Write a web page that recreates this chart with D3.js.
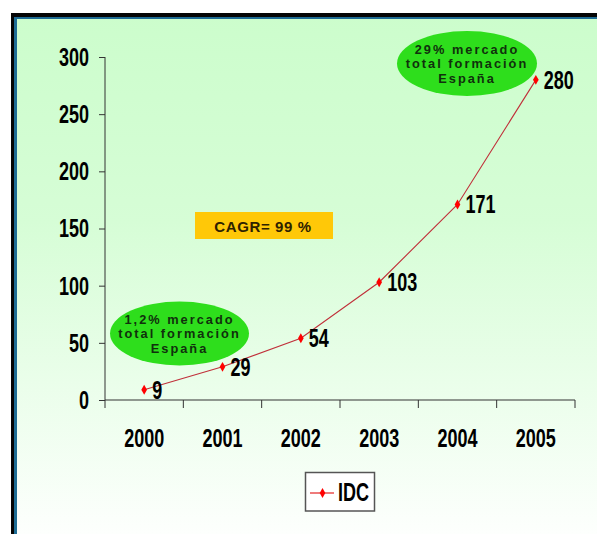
<!DOCTYPE html>
<html>
<head>
<meta charset="utf-8">
<script src="https://cdn.jsdelivr.net/npm/d3@7"></script>
<style>
  html, body { margin: 0; padding: 0; background: #ffffff; }
  svg { display: block; }
</style>
</head>
<body>
<svg id="chart" width="597" height="534"></svg>
<script>
// IDC training market series, 2000-2005
const years = ["2000", "2001", "2002", "2003", "2004", "2005"];
const idcValues = [9, 29, 54, 103, 171, 280];
const yTicks = [0, 50, 100, 150, 200, 250, 300];
const seriesName = "IDC";
const cagrText = "CAGR= 99 %";
const bubbleStart = ["1,2% mercado", "total formación", "España"];
const bubbleEnd = ["29% mercado", "total formación", "España"];

const svg = d3.select("#chart");

// Background: green-to-white gradient panel with dark frame
const defs = svg.append("defs");
const grad = defs.append("linearGradient")
  .attr("id", "bg").attr("x1", 0).attr("y1", 0).attr("x2", 0).attr("y2", 1);
grad.append("stop").attr("offset", "0%").attr("stop-color", "#ccfdcc");
grad.append("stop").attr("offset", "40%").attr("stop-color", "#d6fdd6");
grad.append("stop").attr("offset", "100%").attr("stop-color", "#fdfffd");

svg.append("rect").attr("x", 11).attr("y", 13).attr("width", 586).attr("height", 521)
  .attr("fill", "url(#bg)");
// frame: black outer, blue inner
svg.append("rect").attr("x", 11).attr("y", 13).attr("width", 586).attr("height", 4).attr("fill", "#050505");
svg.append("rect").attr("x", 14).attr("y", 17).attr("width", 583).attr("height", 2).attr("fill", "#1e6c94");
svg.append("rect").attr("x", 11).attr("y", 13).attr("width", 3).attr("height", 521).attr("fill", "#050505");
svg.append("rect").attr("x", 14).attr("y", 17).attr("width", 3).attr("height", 517).attr("fill", "#1e6c94");

// Scales
const x = d3.scaleBand().domain(years).range([105, 575]);
const y = d3.scaleLinear().domain([0, 300]).range([400, 57]);

const bigFont = "'Liberation Sans', Arial, sans-serif";
const stretch = 1.38;

// Tall condensed-looking bold label: normal width, stretched vertically
function bigLabel(parent, px, py, text, anchor) {
  const g = parent.append("g").attr("transform", `translate(${px},${py}) scale(1,${stretch})`);
  g.append("text")
    .attr("text-anchor", anchor)
    .attr("dy", "0.36em")
    .style("font-family", bigFont)
    .style("font-weight", "bold")
    .style("font-size", "18px")
    .attr("fill", "#000")
    .text(text);
  return g;
}

// Y axis
const yAxis = svg.append("g").attr("transform", "translate(105,0)")
  .call(d3.axisLeft(y).tickValues(yTicks).tickSize(6).tickFormat(""));
yAxis.select(".domain").attr("stroke", "#333").attr("d", `M0,${y(300)}V${y(0)}`);
yAxis.selectAll(".tick line").attr("stroke", "#333");
yTicks.forEach(t => bigLabel(svg, 89, y(t), String(t), "end"));

// X axis with ticks at category boundaries
const bounds = years.map(d => x(d)).concat([x.range()[1]]);
svg.append("line").attr("x1", 105).attr("x2", 575).attr("y1", 400).attr("y2", 400)
  .attr("stroke", "#333");
svg.selectAll(".xtick").data(bounds).enter().append("line")
  .attr("x1", d => d).attr("x2", d => d).attr("y1", 400).attr("y2", 408)
  .attr("stroke", "#333");
years.forEach(yr => bigLabel(svg, x(yr) + x.bandwidth() / 2, 438, yr, "middle"));

// Series line and markers
const cx = d => x(d) + x.bandwidth() / 2;
const pts = years.map((yr, i) => ({ yr, v: idcValues[i] }));
svg.append("path").datum(pts)
  .attr("fill", "none").attr("stroke", "#c0303a").attr("stroke-width", 1.1)
  .attr("d", d3.line().x(d => cx(d.yr)).y(d => y(d.v)));
const diamond = d3.symbol().type(d3.symbolDiamond).size(28);
svg.selectAll(".pt").data(pts).enter().append("path")
  .attr("d", diamond)
  .attr("transform", d => `translate(${cx(d.yr)},${y(d.v)})`)
  .attr("fill", "#ff0000");
pts.forEach(d => bigLabel(svg, cx(d.yr) + 8, y(d.v), String(d.v), "start"));

// CAGR box
svg.append("rect").attr("x", 195).attr("y", 212).attr("width", 138).attr("height", 27)
  .attr("fill", "#ffc808");
svg.append("text").attr("x", 263).attr("y", 231.5)
  .attr("text-anchor", "middle")
  .style("font-family", "'Liberation Sans', Arial, sans-serif")
  .style("font-weight", "bold").style("font-size", "15px")
  .style("letter-spacing", "0.6px")
  .attr("fill", "#2e2200")
  .text(cagrText);

// Market share bubbles
function bubble(cxp, cyp, rx, ry, lines) {
  svg.append("ellipse").attr("cx", cxp).attr("cy", cyp).attr("rx", rx).attr("ry", ry)
    .attr("fill", "#2ede1c");
  lines.forEach((t, i) => {
    svg.append("text")
      .attr("x", cxp).attr("y", cyp - 14.5 + i * 14.5)
      .attr("dy", "0.36em")
      .attr("text-anchor", "middle")
      .style("font-family", "'Liberation Sans', Arial, sans-serif")
      .style("font-weight", "bold").style("font-size", "12.8px")
      .style("letter-spacing", "2px")
      .attr("fill", "#10300c")
      .text(t);
  });
}
bubble(179.5, 333.5, 69.5, 32, bubbleStart);
bubble(467, 63.5, 70, 32.5, bubbleEnd);

// Legend
const lg = svg.append("g");
lg.append("rect").attr("x", 305.5).attr("y", 472.5).attr("width", 69).attr("height", 38.5)
  .attr("fill", "#fff").attr("stroke", "#555").attr("stroke-width", 1.5);
lg.append("line").attr("x1", 310).attr("x2", 334).attr("y1", 493).attr("y2", 493)
  .attr("stroke", "#e01010").attr("stroke-width", 1.1);
lg.append("path").attr("d", diamond).attr("transform", "translate(322.5,493)").attr("fill", "#ff0000");
bigLabel(lg, 338, 492, seriesName, "start");
</script>
</body>
</html>
